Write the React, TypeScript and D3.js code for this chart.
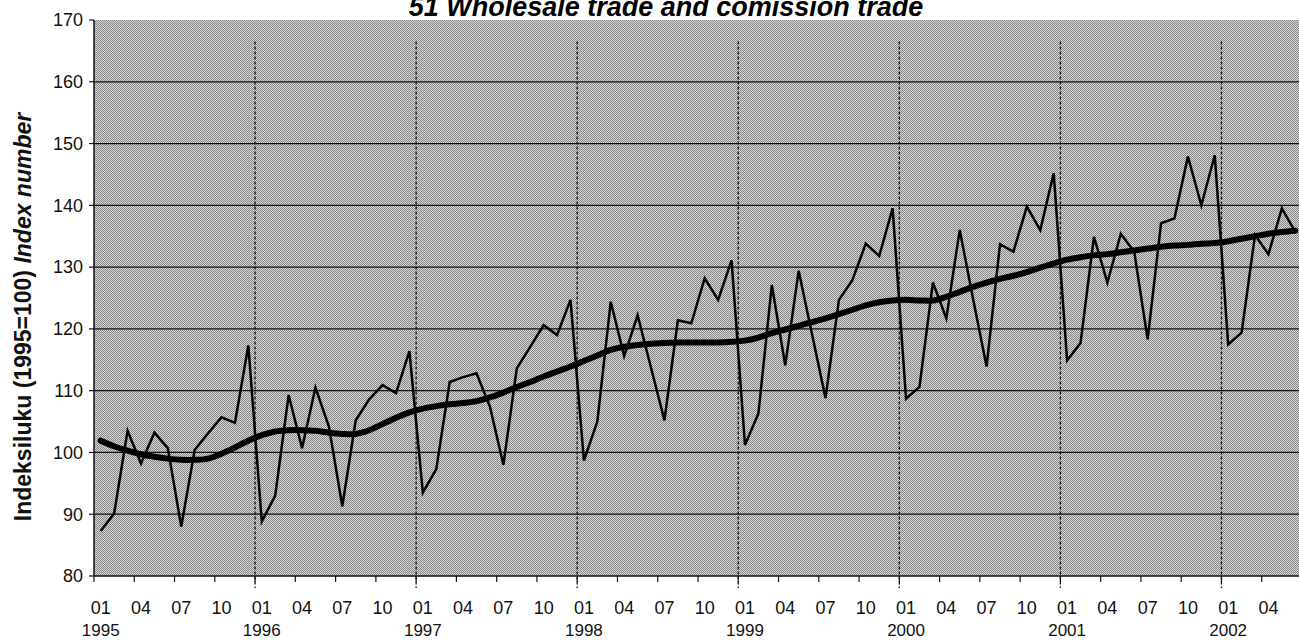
import * as d3 from "d3";
import { useRef, useEffect } from "react";

const title = "51 Wholesale trade and comission trade";
const yLabelPlain = "Indeksiluku (1995=100) ";
const yLabelItalic = "Index number";

const years = ["1995", "1996", "1997", "1998", "1999", "2000", "2001", "2002"];
const monthTicks = ["01", "04", "07", "10"];
const yTicks = [80, 90, 100, 110, 120, 130, 140, 150, 160, 170];

// monthly index, 1995-01 .. 2002-06
const indexValues = [
  87.3, 90.1, 103.5, 98.2, 103.2, 100.7, 88.0, 100.4, 103.1, 105.7, 104.8, 117.3,
  88.8, 93.0, 109.3, 100.7, 110.5, 104.2, 91.3, 105.2, 108.6, 110.9, 109.6, 116.4,
  93.5, 97.3, 111.4, 112.2, 112.8, 107.4, 98.0, 113.6, 117.1, 120.6, 119.0, 124.7,
  98.7, 105.0, 124.4, 115.6, 122.2, 113.7, 105.2, 121.4, 120.9, 128.2, 124.7, 131.1,
  101.2, 106.3, 127.1, 114.1, 129.4, 119.1, 108.8, 124.7, 127.9, 133.8, 131.8, 139.5,
  108.7, 110.6, 127.5, 121.7, 136.0, 124.8, 113.9, 133.7, 132.5, 139.8, 136.0, 145.2,
  114.9, 117.7, 134.9, 127.5, 135.4, 132.5, 118.3, 137.1, 137.9, 147.9, 140.0, 148.1,
  117.5, 119.4, 135.2, 132.1, 139.5, 135.7,
];

// trend
const trendValues = [
  101.9, 101.0, 100.3, 99.7, 99.3, 99.0, 98.8, 98.8, 99.0, 99.8, 100.8, 101.9,
  102.8, 103.4, 103.6, 103.6, 103.5, 103.2, 103.0, 103.0, 103.6, 104.6, 105.6, 106.5,
  107.1, 107.5, 107.8, 108.0, 108.3, 108.9, 109.7, 110.6, 111.4, 112.3, 113.1, 113.9,
  114.8, 115.7, 116.6, 117.1, 117.4, 117.6, 117.7, 117.8, 117.8, 117.8, 117.8, 117.9,
  118.1, 118.6, 119.3, 119.9, 120.5, 121.1, 121.7, 122.4, 123.1, 123.8, 124.3, 124.6,
  124.7, 124.6, 124.6, 125.2, 126.0, 126.8, 127.5, 128.1, 128.6, 129.2, 129.9, 130.6,
  131.2, 131.6, 131.9, 132.1, 132.4, 132.7, 133.0, 133.3, 133.5, 133.6, 133.8, 133.9,
  134.2, 134.6, 135.0, 135.4, 135.7, 135.9,
];

const W = 1299;
const H = 640;
const FONT = "'Liberation Sans', Arial, Helvetica, sans-serif";

function App() {
  const ref = useRef<SVGSVGElement>(null);

  useEffect(() => {
    draw();
  }, []);

  const draw = () => {
    const svg = d3.select(ref.current);
    svg.selectAll("*").remove();

    const n = indexValues.length;
    const left = 94;
    const right = 1302;
    const top = 20;
    const bottom = 576;

    // category axis, points sit between the tick marks
    const x = d3.scaleLinear().domain([-0.5, n - 0.5]).range([left, right]);
    const y = d3.scaleLinear().domain([80, 170]).range([bottom, top]);

    // dotted gray fill of the plot area
    const pat = svg
      .append("defs")
      .append("pattern")
      .attr("id", "dots")
      .attr("width", 2)
      .attr("height", 2)
      .attr("patternUnits", "userSpaceOnUse");
    pat.append("rect").attr("width", 2).attr("height", 2).attr("fill", "#d6d6d6");
    pat.append("rect").attr("width", 1).attr("height", 1).attr("fill", "#878787");
    pat.append("rect").attr("x", 1).attr("y", 1).attr("width", 1).attr("height", 1).attr("fill", "#878787");

    svg
      .append("rect")
      .attr("x", left)
      .attr("y", top)
      .attr("width", right - left)
      .attr("height", bottom - top)
      .attr("fill", "url(#dots)");

    // horizontal grid
    svg
      .selectAll(".grid")
      .data(yTicks.filter((t) => t > 80 && t < 170))
      .join("line")
      .attr("x1", left)
      .attr("x2", right)
      .attr("y1", (d) => y(d))
      .attr("y2", (d) => y(d))
      .attr("stroke", "#111")
      .attr("stroke-width", 1.3);

    // year separators
    const yearStarts = d3.range(12, n, 12);
    svg
      .selectAll(".sep")
      .data(yearStarts)
      .join("line")
      .attr("x1", (d) => x(d - 0.5))
      .attr("x2", (d) => x(d - 0.5))
      .attr("y1", y(166.5))
      .attr("y2", bottom + 12)
      .attr("stroke", "#111")
      .attr("stroke-width", 1.3)
      .attr("stroke-dasharray", "3,2");

    // axes lines
    svg.append("line").attr("x1", left).attr("x2", left).attr("y1", top).attr("y2", bottom).attr("stroke", "#111").attr("stroke-width", 1.5);
    svg.append("line").attr("x1", left).attr("x2", right).attr("y1", bottom).attr("y2", bottom).attr("stroke", "#111").attr("stroke-width", 1.5);

    // y ticks + labels
    svg
      .selectAll(".ytick")
      .data(yTicks)
      .join("line")
      .attr("x1", left - 5)
      .attr("x2", left)
      .attr("y1", (d) => y(d))
      .attr("y2", (d) => y(d))
      .attr("stroke", "#111")
      .attr("stroke-width", 1.2);

    svg
      .selectAll(".ylab")
      .data(yTicks)
      .join("text")
      .attr("x", 83)
      .attr("y", (d) => y(d))
      .attr("dy", "0.35em")
      .attr("text-anchor", "end")
      .attr("font-family", FONT)
      .attr("font-size", 18)
      .attr("fill", "#111")
      .text((d) => d);

    // x ticks every quarter
    const quarterIdx = d3.range(0, n + 1, 3);
    svg
      .selectAll(".xtick")
      .data(quarterIdx)
      .join("line")
      .attr("x1", (d) => x(d - 0.5))
      .attr("x2", (d) => x(d - 0.5))
      .attr("y1", bottom)
      .attr("y2", bottom + 6)
      .attr("stroke", "#111")
      .attr("stroke-width", 1.2);

    svg
      .selectAll(".xlab")
      .data(quarterIdx.filter((d) => d < n))
      .join("text")
      .attr("x", (d) => x(d))
      .attr("y", 614)
      .attr("text-anchor", "middle")
      .attr("font-family", FONT)
      .attr("font-size", 18)
      .attr("fill", "#111")
      .text((d) => monthTicks[(d % 12) / 3]);

    svg
      .selectAll(".yearlab")
      .data(years)
      .join("text")
      .attr("x", (_, i) => x(i * 12))
      .attr("y", 636)
      .attr("text-anchor", "middle")
      .attr("font-family", FONT)
      .attr("font-size", 17)
      .attr("fill", "#111")
      .text((d) => d);

    // series
    const line = d3
      .line<number>()
      .x((_, i) => x(i))
      .y((d) => y(d));

    svg
      .append("path")
      .datum(indexValues)
      .attr("d", line)
      .attr("fill", "none")
      .attr("stroke", "#000")
      .attr("stroke-width", 2.5)
      .attr("stroke-linejoin", "miter");

    svg
      .append("path")
      .datum(trendValues)
      .attr("d", line.curve(d3.curveCatmullRom))
      .attr("fill", "none")
      .attr("stroke", "#000")
      .attr("stroke-width", 6)
      .attr("stroke-linecap", "round");

    // title
    svg
      .append("text")
      .attr("x", 666)
      .attr("y", 16)
      .attr("text-anchor", "middle")
      .attr("font-family", FONT)
      .attr("font-size", 27)
      .attr("font-weight", "bold")
      .attr("font-style", "italic")
      .attr("fill", "#000")
      .text(title);

    // y axis title
    const yt = svg
      .append("text")
      .attr("transform", `translate(31,317) rotate(-90)`)
      .attr("text-anchor", "middle")
      .attr("font-family", FONT)
      .attr("font-size", 23)
      .attr("font-weight", "bold")
      .attr("fill", "#111");
    yt.append("tspan").text(yLabelPlain);
    yt.append("tspan").attr("font-style", "italic").text(yLabelItalic);
  };

  return (
    <div className="chart">
      <svg
        ref={ref}
        width={W}
        height={H}
        style={{ position: "absolute", left: 0, top: 0, background: "#fff" }}
      ></svg>
    </div>
  );
}

export default App;
